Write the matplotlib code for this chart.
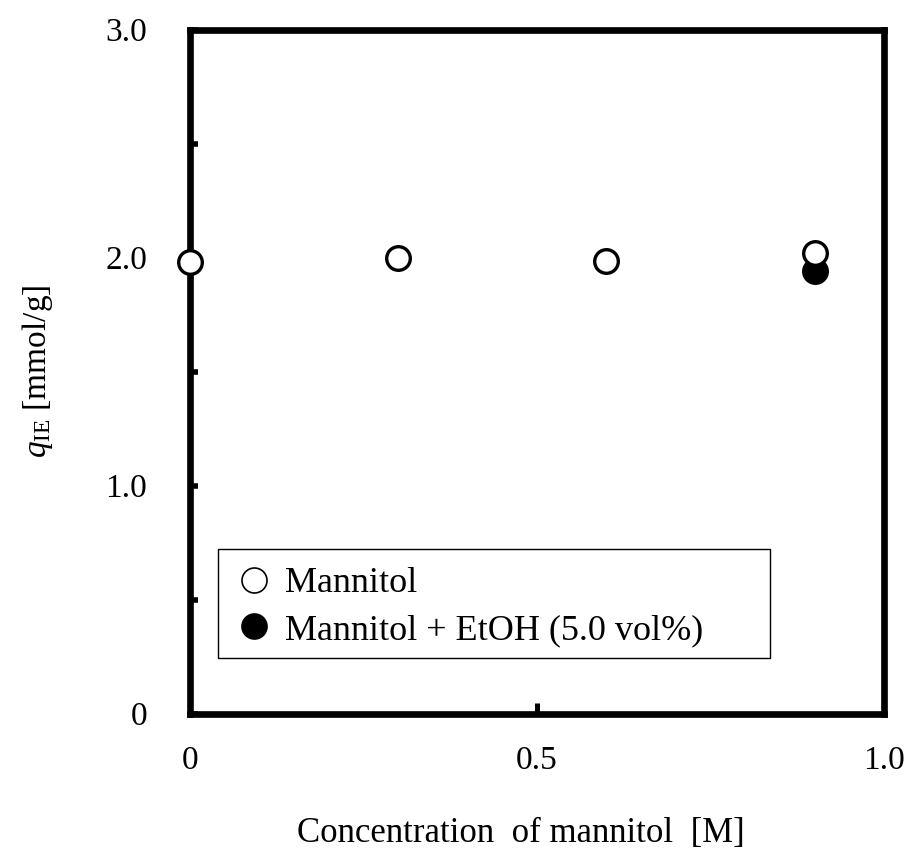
import matplotlib
matplotlib.use("Agg")
import matplotlib.pyplot as plt
from matplotlib.patches import Rectangle
from matplotlib.lines import Line2D
from matplotlib.ticker import MultipleLocator, FixedFormatter, FixedLocator

plt.rcParams['font.family'] = ['Liberation Serif', 'DejaVu Serif']
plt.rcParams['mathtext.fontset'] = 'custom'
plt.rcParams['mathtext.rm'] = 'Liberation Serif'
plt.rcParams['mathtext.it'] = 'Liberation Serif:italic'

# data
conc_mannitol = [0.0, 0.3, 0.6, 0.9]
q_mannitol = [1.98, 2.00, 1.985, 2.02]
conc_etoh = [0.9]
q_etoh = [1.94]

x_ticks = [0.0, 0.5, 1.0]
x_ticklabels = ["0", "0.5", "1.0"]
y_ticks = [0.0, 1.0, 2.0, 3.0]
y_ticklabels = ["0", "1.0", "2.0", "3.0"]
legend_labels = ['Mannitol', 'Mannitol + EtOH (5.0 vol%)']

FS = 24

fig = plt.figure(figsize=(9.06, 8.49), dpi=100)
ax = fig.add_axes([190/906, 1 - 713.5/849, 694/906, 684/849])

ax.plot(conc_mannitol, q_mannitol, 'o', ms=17, mfc='white', mec='black', mew=2.4,
        clip_on=False, zorder=5)
ax.plot(conc_etoh, q_etoh, 'o', ms=17, mfc='black', mec='black', mew=2.4,
        clip_on=False, zorder=4)

ax.set_xlim(0, 1.0)
ax.set_ylim(0, 3.0)

ax.xaxis.set_major_locator(FixedLocator(x_ticks))
ax.xaxis.set_major_formatter(FixedFormatter(x_ticklabels))
ax.yaxis.set_major_locator(FixedLocator(y_ticks))
ax.yaxis.set_major_formatter(FixedFormatter(y_ticklabels))
ax.yaxis.set_minor_locator(MultipleLocator(0.5))

for s in ax.spines.values():
    s.set_linewidth(4.8)
ax.tick_params(which='both', direction='in', labelsize=FS)
ax.tick_params(axis='x', which='major', length=8, width=3.6, pad=23)
ax.tick_params(axis='y', which='both', length=6, width=4, pad=31)

ax.set_xlabel('Concentration  of mannitol  [M]', fontsize=25)
ax.xaxis.set_label_coords(0.477, -0.151)
ax.set_ylabel(r'$q_{\mathrm{IE}}$ [mmol/g]', fontsize=FS, labelpad=36)

# legend box (drawn larger than its entries, as in the original)
ax.add_patch(Rectangle((0.040, 0.081), 0.796, 0.1595, transform=ax.transAxes,
                       fill=True, facecolor='white', edgecolor='black', lw=1.0, zorder=9))
handles = [Line2D([], [], ls='none', marker='o', ms=18, mfc='white', mec='black', mew=1.2),
           Line2D([], [], ls='none', marker='o', ms=18, mfc='black', mec='black', mew=1.2)]
leg = ax.legend(handles, legend_labels, loc='upper left', bbox_to_anchor=(0.072, 0.214),
                borderaxespad=0, borderpad=0, fontsize=26, frameon=False,
                handlelength=0.8, handletextpad=0.44, labelspacing=0.37)
leg.set_zorder(10)

fig.savefig('out.png', dpi=100)
